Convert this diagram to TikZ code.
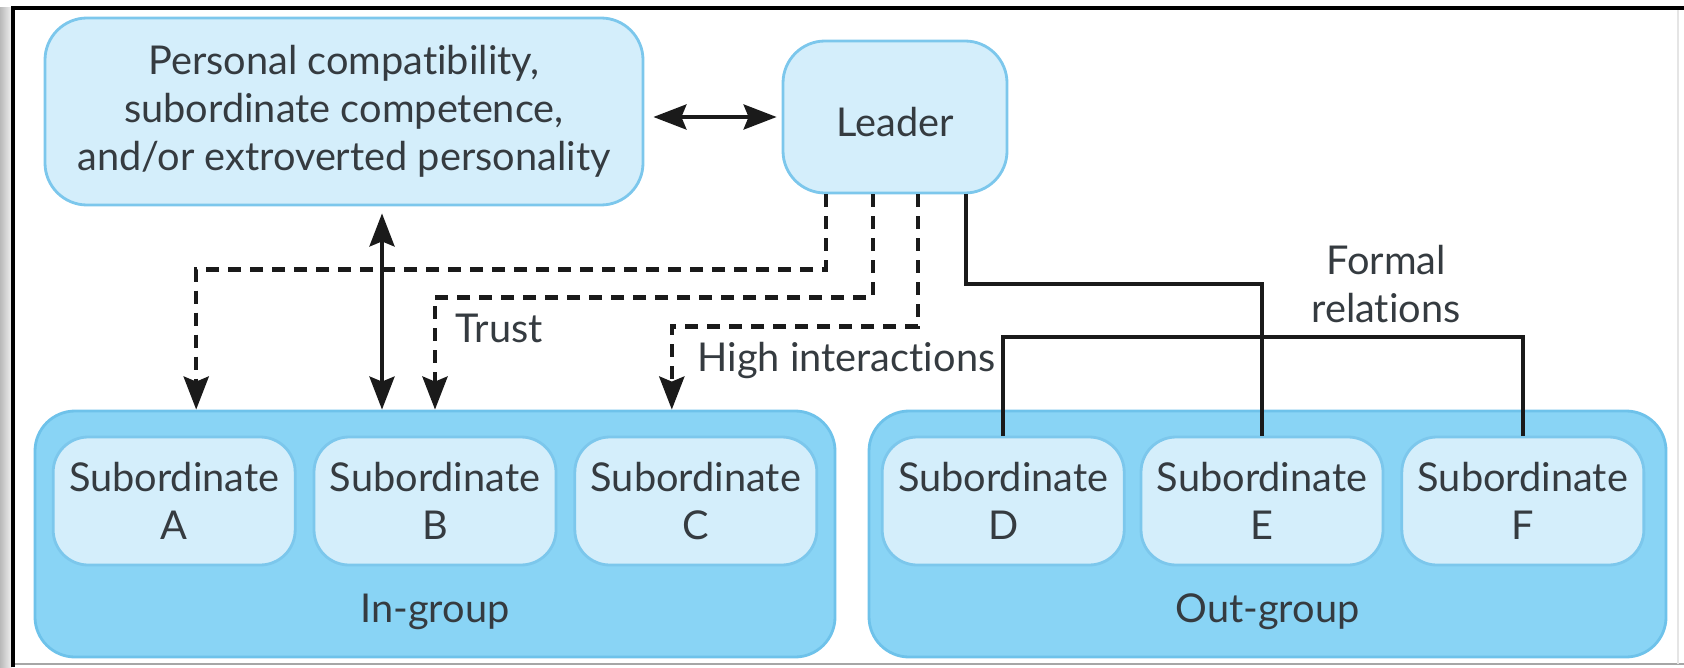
\documentclass[tikz,border=0pt]{standalone}
\usepackage{fontspec}
\setmainfont{Lato}[Ligatures=NoCommon]
\usepackage{xcolor}
\usetikzlibrary{arrows.meta, positioning}

\definecolor{boxfill}{HTML}{D4EEFB}
\definecolor{boxline}{HTML}{7CC7EC}
\definecolor{grpfill}{HTML}{89D4F5}
\definecolor{grpline}{HTML}{6EC2EA}
\definecolor{txtgray}{HTML}{353B40}
\definecolor{linkcol}{HTML}{1A1A1A}

\begin{document}
\begin{tikzpicture}[
    node distance=0.16cm,
    font=\fontsize{11.3}{13.6}\selectfont,
    box/.style={draw=boxline, fill=boxfill, line width=0.8pt, rounded corners=0.42cm, align=center, text=txtgray, inner sep=0pt},
    grp/.style={draw=grpline, fill=grpfill, line width=0.8pt, rounded corners=0.4cm, minimum width=8cm, minimum height=2.46cm},
    subbox/.style={box, rounded corners=0.35cm, minimum width=2.42cm, minimum height=1.28cm},
    link/.style={line width=1.1pt, draw=linkcol},
    dashlink/.style={link, line width=1.25pt, dash pattern=on 1.3mm off 0.9mm},
    headend/.style={-{Stealth[length=3.3mm, width=2.5mm, inset=0.5mm]}},
    headboth/.style={{Stealth[length=3.3mm, width=2.5mm, inset=0.5mm]}-{Stealth[length=3.3mm, width=2.5mm, inset=0.5mm]}},
    lbl/.style={text=txtgray, align=center, inner sep=0pt}
]
\useasboundingbox (0,0) rectangle (16.84,-6.67);

% --- frame ---
\shade[left color=gray!55, right color=gray!10] (0,-0.08) rectangle (0.12,-6.67);
\draw[gray!70, line width=0.6pt] (0.13,-6.64) -- (16.84,-6.64);
\draw[gray!20, line width=0.6pt] (16.78,-0.08) -- (16.78,-6.64);
\draw[black, line width=1.1pt] (0.13,-6.67) -- (0.13,-0.08) -- (16.84,-0.08);

% --- top boxes ---
\node[box, minimum width=5.98cm, minimum height=1.87cm] (pers) at (3.44,-1.115)
    {Personal compatibility,\\subordinate competence,\\and/or extroverted personality};
\node[box, minimum width=2.24cm, minimum height=1.52cm, text height=0.4cm] (leader) at (8.95,-1.17) {Leader};

% --- groups ---
\node[grp] (ingrp) at (4.35,-5.34) {};
\node[grp, minimum width=7.97cm] (outgrp) at (12.675,-5.34) {};
\node[lbl] (inlbl) at ([yshift=0.47cm]ingrp.south) {In-group};
\node[lbl] (outlbl) at ([yshift=0.47cm]outgrp.south) {Out-group};

\node[subbox] (subB) at (4.35,-5.01) {Subordinate\\B};
\node[subbox, left=of subB] (subA) {Subordinate\\A};
\node[subbox, right=of subB] (subC) {Subordinate\\C};
\node[subbox] (subE) at (12.62,-5.01) {Subordinate\\E};
\node[subbox, left=0.14cm of subE] (subD) {Subordinate\\D};
\node[subbox, right=0.16cm of subE] (subF) {Subordinate\\F};

% --- connectors ---
\draw[link, headboth] ([xshift=-0.05cm]leader.west) -- ([xshift=0.09cm]pers.east |- leader.west);
\draw[link, headboth] ([xshift=0.38cm, yshift=-0.07cm]pers.south) -- ([xshift=0.38cm]pers.south |- ingrp.north);

\draw[dashlink, headend] ([xshift=-0.69cm]leader.south) -- ++(0,-0.75) -| ([xshift=0.22cm]subA.north |- ingrp.north);
\draw[dashlink, headend] ([xshift=-0.22cm]leader.south) -- ++(0,-1.03) -| (subB.north |- ingrp.north);
\draw[dashlink, headend] ([xshift=0.23cm]leader.south) -- ++(0,-1.32) -| ([xshift=-0.24cm]subC.north |- ingrp.north);

\draw[link] ([xshift=0.71cm]leader.south) -- ++(0,-0.90) -| (subE.north);
\draw[link] (subD.north) -- ++(0,0.99) -| (subF.north);

% labels
\node[lbl, anchor=west] (trust) at (4.55,-3.28) {Trust};
\node[lbl, anchor=west] (highint) at (6.97,-3.60) {High interactions};
\node[lbl] (formal) at (13.86,-2.84) {Formal\\relations};
\end{tikzpicture}
\end{document}
